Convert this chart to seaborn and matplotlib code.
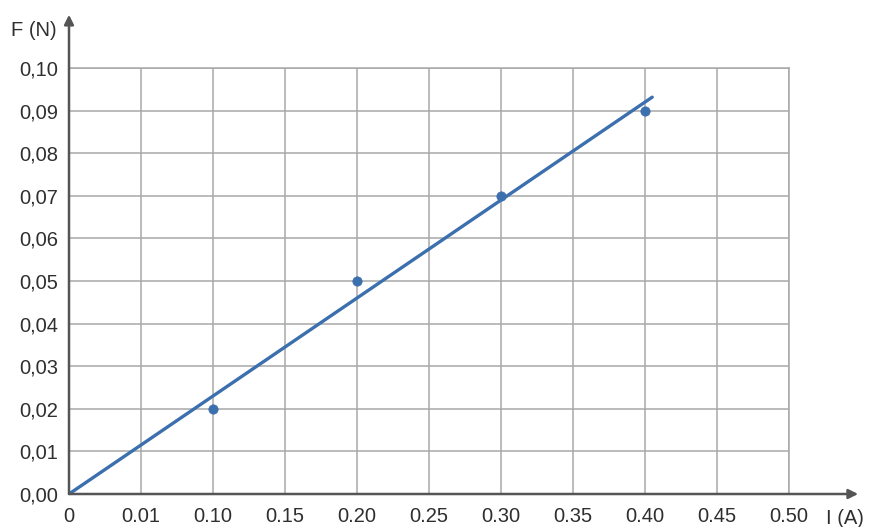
import numpy as np
import pandas as pd
import seaborn as sns
import matplotlib.pyplot as plt

# measured points
current = [0.10, 0.20, 0.30, 0.40]
force = [0.02, 0.05, 0.07, 0.09]

x_ticks = [0, 0.05, 0.10, 0.15, 0.20, 0.25, 0.30, 0.35, 0.40, 0.45, 0.50]
x_tick_labels = ['0', '0.01', '0.10', '0.15', '0.20', '0.25', '0.30',
                 '0.35', '0.40', '0.45', '0.50']
y_ticks = [0, 0.01, 0.02, 0.03, 0.04, 0.05, 0.06, 0.07, 0.08, 0.09, 0.10]
y_tick_labels = ['0,00', '0,01', '0,02', '0,03', '0,04', '0,05', '0,06',
                 '0,07', '0,08', '0,09', '0,10']
fit_end = 0.405

blue = '#3b6fae'
axis_col = '#555555'
txt_col = '#2f2f2f'
fs = 14.5

sns.set_style('white')
plt.rcParams['font.family'] = ['Liberation Sans', 'DejaVu Sans']

df = pd.DataFrame({'I': current, 'F': force})
# least squares line through the origin
slope = np.sum(df.I * df.F) / np.sum(df.I ** 2)
fit = pd.DataFrame({'I': [0, fit_end]})
fit['F'] = slope * fit.I

fig = plt.figure(figsize=(8.78, 5.27), dpi=100)
ax = fig.add_axes([69 / 878, 33 / 527, 720 / 878, 426 / 527])

sns.lineplot(data=fit, x='I', y='F', color=blue, linewidth=2.4, ax=ax, zorder=3)
sns.scatterplot(data=df, x='I', y='F', color=blue, s=45, edgecolor=blue, ax=ax, zorder=4)

ax.set_xlim(0, 0.50)
ax.set_ylim(0, 0.10)
ax.set_xticks(x_ticks)
ax.set_xticklabels(x_tick_labels)
ax.set_yticks(y_ticks)
ax.set_yticklabels(y_tick_labels)
ax.tick_params(labelsize=fs, colors=txt_col, length=0)
ax.tick_params(axis='x', pad=9)
ax.tick_params(axis='y', pad=8)
ax.grid(True, color='#a8a8a8', linewidth=1.1)
ax.set_xlabel('')
ax.set_ylabel('')

for side in ['top', 'right']:
    ax.spines[side].set_color('#a8a8a8')
    ax.spines[side].set_linewidth(1.1)
for side in ['left', 'bottom']:
    ax.spines[side].set_visible(False)

# axis arrows
ax.annotate('', xy=(0.548, 0), xytext=(0, 0), annotation_clip=False,
            arrowprops=dict(arrowstyle='-|>', color=axis_col, lw=1.8,
                            mutation_scale=14, shrinkA=0, shrinkB=0))
ax.annotate('', xy=(0, 0.1125), xytext=(0, 0), annotation_clip=False,
            arrowprops=dict(arrowstyle='-|>', color=axis_col, lw=1.8,
                            mutation_scale=14, shrinkA=0, shrinkB=0))

ax.text(0.539, -0.0057, 'I (A)', fontsize=fs, color=txt_col,
        ha='center', va='center')
ax.text(-0.0245, 0.1088, 'F (N)', fontsize=fs, color=txt_col,
        ha='center', va='center')

fig.savefig('out.png', dpi=100)
